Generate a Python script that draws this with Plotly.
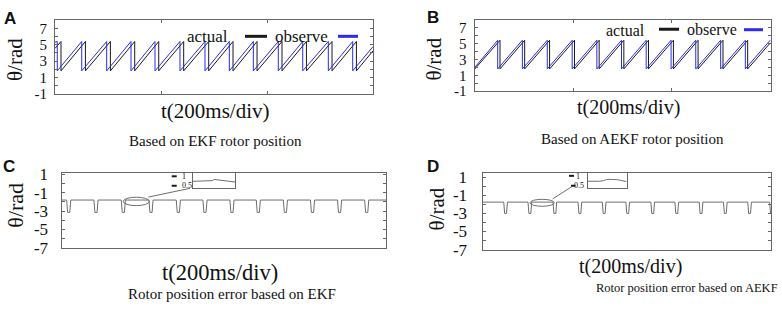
import plotly.graph_objects as go

W, H = 782, 314
def px(x): return x / W
def py(y): return (H - y) / H

# ---------------- data ----------------
T_END = 600  # ms, 3 divisions of 200 ms

# Panel A: EKF rotor position (sawtooth, drop times in ms)
a_obs_drops = [4.3, 50.4, 97.5, 143.4, 188.7, 235.8, 283.0, 328.9, 374.2, 421.3, 467.4, 515.7, 561.7]
a_act_drops = [11.3, 57.4, 104.5, 150.4, 195.7, 242.8, 290.0, 335.9, 381.2, 428.3, 474.4, 522.7, 568.7]
a_peak, a_trough = 5.4, 1.8
a_obs_edges = [5.3, 4.77]   # value at t=0 and t=600
a_act_edges = [4.55, 4.25]

# Panel B: AEKF rotor position
b_obs_drops = [47.0, 97.0, 147.5, 198.0, 248.0, 298.0, 348.0, 398.5, 448.5, 499.0, 549.0]
b_act_drops = [51.7, 101.7, 152.2, 202.7, 252.7, 302.7, 352.7, 403.2, 453.2, 503.7, 553.7]
b_peak, b_trough = 5.4, 1.8
b_obs_edges = [1.95, 5.45]
b_act_edges = [1.75, 5.1]

# Panel C: position error EKF (notch centre times, ms)
c_notches = [13.3, 63.8, 114.3, 165.5, 216.0, 265.3, 315.2, 363.9, 414.0, 464.1, 514.2, 564.3]
c_base, c_dip = -1.8, -3.15

# Panel D: position error AEKF
d_notches = [48.0, 98.5, 150.5, 202.5, 253.0, 302.0, 354.0, 404.0, 454.5, 505.0, 555.5, 601.0]
d_base, d_dip = -1.75, -3.0

# zoom insets (relative position 0..10, value)
c_inset_x = [0, 1, 2, 3, 4, 4.6, 5.1, 6, 7, 8, 9, 10]
c_inset_y = [0.72, 0.72, 0.72, 0.72, 0.73, 0.76, 0.83, 0.80, 0.77, 0.74, 0.71, 0.68]
d_inset_x = [0, 1, 2, 3, 4, 4.8, 5.5, 6.5, 7.5, 8.5, 9.3, 10]
d_inset_y = [0.72, 0.71, 0.73, 0.72, 0.75, 0.82, 0.83, 0.83, 0.81, 0.77, 0.72, 0.70]

# ---------------- helpers ----------------
def saw(drops, peak, trough, edges):
    xs, ys = [0], [edges[0]]
    for d in drops:
        xs += [d, d]
        ys += [peak, trough]
    xs.append(T_END); ys.append(edges[1])
    return xs, ys

def notch_line(centres, base, dip, half_top=3.8, half_bot=2.0):
    xs, ys = [0], [base]
    for c in centres:
        xs += [c - half_top, c - half_bot, c + half_bot, c + half_top]
        ys += [base, dip, dip, base]
    xs.append(T_END); ys.append(base)
    return xs, ys

SERIF = "Liberation Serif, Times New Roman, serif"
FRAME = "#666666"
BLACK = "#1a1a1a"
BLUE = "#2a2af0"
GRAY = "#6e6e6e"

fig = go.Figure()

xa, ya = saw(a_act_drops, a_peak, a_trough, a_act_edges)
fig.add_trace(go.Scatter(x=xa, y=ya, mode="lines", line=dict(color=BLACK, width=1), xaxis="x", yaxis="y", name="actual"))
xa, ya = saw(a_obs_drops, a_peak, a_trough, a_obs_edges)
fig.add_trace(go.Scatter(x=xa, y=ya, mode="lines", line=dict(color=BLUE, width=1), xaxis="x", yaxis="y", name="observe"))

xb, yb = saw(b_act_drops, b_peak, b_trough, b_act_edges)
fig.add_trace(go.Scatter(x=xb, y=yb, mode="lines", line=dict(color=BLACK, width=1), xaxis="x2", yaxis="y2", name="actual"))
xb, yb = saw(b_obs_drops, b_peak, b_trough, b_obs_edges)
fig.add_trace(go.Scatter(x=xb, y=yb, mode="lines", line=dict(color=BLUE, width=1), xaxis="x2", yaxis="y2", name="observe"))

xc, yc = notch_line(c_notches, c_base, c_dip)
fig.add_trace(go.Scatter(x=xc, y=yc, mode="lines", line=dict(color=GRAY, width=1), xaxis="x3", yaxis="y3", name="error EKF"))
xd, yd = notch_line(d_notches, d_base, d_dip)
fig.add_trace(go.Scatter(x=xd, y=yd, mode="lines", line=dict(color=GRAY, width=1), xaxis="x4", yaxis="y4", name="error AEKF"))

fig.add_trace(go.Scatter(x=c_inset_x, y=c_inset_y, mode="lines", line=dict(color=GRAY, width=1), xaxis="x5", yaxis="y5"))
fig.add_trace(go.Scatter(x=d_inset_x, y=d_inset_y, mode="lines", line=dict(color=GRAY, width=1), xaxis="x6", yaxis="y6"))

def xaxis(dom, ticks=True):
    d = dict(domain=dom, range=[0, T_END], showgrid=False, zeroline=False,
             showline=True, linecolor=FRAME, linewidth=1, mirror=True,
             showticklabels=False, fixedrange=True)
    if ticks:
        d.update(tickvals=[200, 400], ticks="inside", ticklen=3, tickcolor=FRAME, mirror="ticks")
    else:
        d.update(ticks="")
    return d

def yaxis(dom, rng, vals, labels, anchor, size, standoff):
    return dict(domain=dom, range=rng, showgrid=False, zeroline=False,
                showline=True, linecolor=FRAME, linewidth=1, mirror="ticks",
                tickvals=vals, ticktext=labels, ticks="inside", ticklen=3, tickcolor=FRAME,
                tickfont=dict(family=SERIF, size=size, color="#111"), anchor=anchor,
                ticklabelstandoff=standoff, fixedrange=True)

ab_vals = list(range(-1, 9))
ab_text = [str(v) if v % 2 else "" for v in ab_vals]
cd_vals = list(range(-7, 2))
cd_text = [str(v) if v % 2 else "" for v in cd_vals]

def inset_axes(xdom, ydom, yr):
    xd = dict(domain=xdom, range=[0, 10], showgrid=False, zeroline=False, showline=True,
              linecolor=FRAME, linewidth=1, mirror=True, showticklabels=False, ticks="", fixedrange=True)
    yd = dict(domain=ydom, range=yr, showgrid=False, zeroline=False, showline=True,
              linecolor=FRAME, linewidth=1, mirror=True, showticklabels=False, ticks="", fixedrange=True)
    return xd, yd

x5, y5 = inset_axes([px(192.7), px(235)], [py(191), py(176)], [0.35, 1.18])
x6, y6 = inset_axes([px(588), px(626.5)], [py(191), py(175.5)], [0.355, 1.19])
x5["anchor"] = "y5"; y5["anchor"] = "x5"
x6["anchor"] = "y6"; y6["anchor"] = "x6"

fig.update_layout(
    width=W, height=H, margin=dict(l=0, r=0, t=0, b=0),
    paper_bgcolor="white", plot_bgcolor="white", showlegend=False,
    font=dict(family=SERIF, color="#111"),
    xaxis=dict(xaxis([px(55), px(373)]), anchor="y"),
    yaxis=yaxis([py(91.7), py(14)], [-1, 8], ab_vals, ab_text, "x", 15, 4),
    xaxis2=dict(xaxis([px(474.5), px(770.5)]), anchor="y2"),
    yaxis2=yaxis([py(89), py(13.3)], [-1, 8], ab_vals, ab_text, "x2", 15, 4),
    xaxis3=dict(xaxis([px(61.5), px(386)], ticks=False), anchor="y3"),
    yaxis3=yaxis([py(254.5), py(175)], [-7, 1.2], cd_vals, cd_text, "x3", 17, 9),
    xaxis4=dict(xaxis([px(482.5), px(771)], ticks=False), anchor="y4"),
    yaxis4=yaxis([py(256.5), py(175)], [-7, 1.52], cd_vals, cd_text, "x4", 17, 11),
    xaxis5=x5, yaxis5=y5, xaxis6=x6, yaxis6=y6,
)

ann = []
def text(x, y, s, size, family=SERIF, bold=False, angle=0, xanchor="center"):
    ann.append(dict(x=px(x), y=py(y), xref="paper", yref="paper", text=f"<b>{s}</b>" if bold else s,
                    showarrow=False, font=dict(family=family, size=size, color="#111"),
                    textangle=angle, xanchor=xanchor, yanchor="middle"))

SANS = "Liberation Sans, Arial, sans-serif"
# panel letters
text(9.5, 12.5, "A", 17, SANS, True)
text(432.5, 11, "B", 17, SANS, True)
text(8.5, 169, "C", 17, SANS, True)
text(432.5, 169, "D", 17, SANS, True)
# y titles
text(15, 56, "θ/rad", 21, angle=-90)
text(434.5, 55, "θ/rad", 21, angle=-90)
text(16, 210, "θ/rad", 22, angle=-90)
text(437, 214, "θ/rad", 21, angle=-90)
# x titles
text(215, 110, "t(200ms/div)", 21)
text(628, 106, "t(200ms/div)", 20)
text(220, 281, "t(200ms/div)", 22.5)
text(630, 274, "t(200ms/div)", 20)
# captions
text(216, 142, "Based on EKF rotor position", 15)
text(632.5, 140, "Based on AEKF rotor position", 15)
text(232, 303, "Rotor position error based on EKF", 15)
text(780, 297, "Rotor position error based on AEKF", 12.5, xanchor="right")
# legends
text(207.5, 31, "actual", 17)
text(301.5, 31, "observe", 17)
text(625, 25, "actual", 16)
text(712, 24, "observe", 16)
# inset labels
text(183.5, 179.3, "1", 8)
text(186.5, 188.3, "0.5", 8)
text(577.7, 178.8, "1", 8)
text(578.5, 188.3, "0.5", 8)

shapes = []
def seg(x0, y0, x1, y1, color, width):
    shapes.append(dict(type="line", xref="paper", yref="paper", x0=px(x0), y0=py(y0), x1=px(x1), y1=py(y1),
                       line=dict(color=color, width=width)))
# legend swatches
seg(245, 31, 267, 31, BLACK, 3)
seg(338, 31, 358, 31, BLUE, 3)
seg(659, 23.5, 679, 23.5, BLACK, 3)
seg(744, 24, 763, 24, BLUE, 3)
# inset dashes
seg(171.7, 179, 176.7, 179, BLACK, 2)
seg(171.7, 189, 176.7, 189, BLACK, 2)
seg(569, 178.5, 574, 178.5, BLACK, 2)
seg(571, 189, 575.5, 189, BLACK, 2)
# connectors
seg(148.3, 201, 190, 191.7, GRAY, 1)
seg(552.7, 202.8, 571.5, 190.2, GRAY, 1)
# ellipses (data coordinates of the error panels)
shapes.append(dict(type="circle", xref="x3", yref="y3", x0=114, x1=162.5, y0=-2.41, y1=-1.49,
                   line=dict(color=GRAY, width=1)))
shapes.append(dict(type="circle", xref="x4", yref="y4", x0=98.8, x1=149.3, y0=-2.21, y1=-1.44,
                   line=dict(color=GRAY, width=1)))

fig.update_layout(annotations=ann, shapes=shapes)
fig.write_html("out.html", config={"displayModeBar": False},
               post_script="document.body.style.margin='0';document.body.style.overflow='hidden';")
